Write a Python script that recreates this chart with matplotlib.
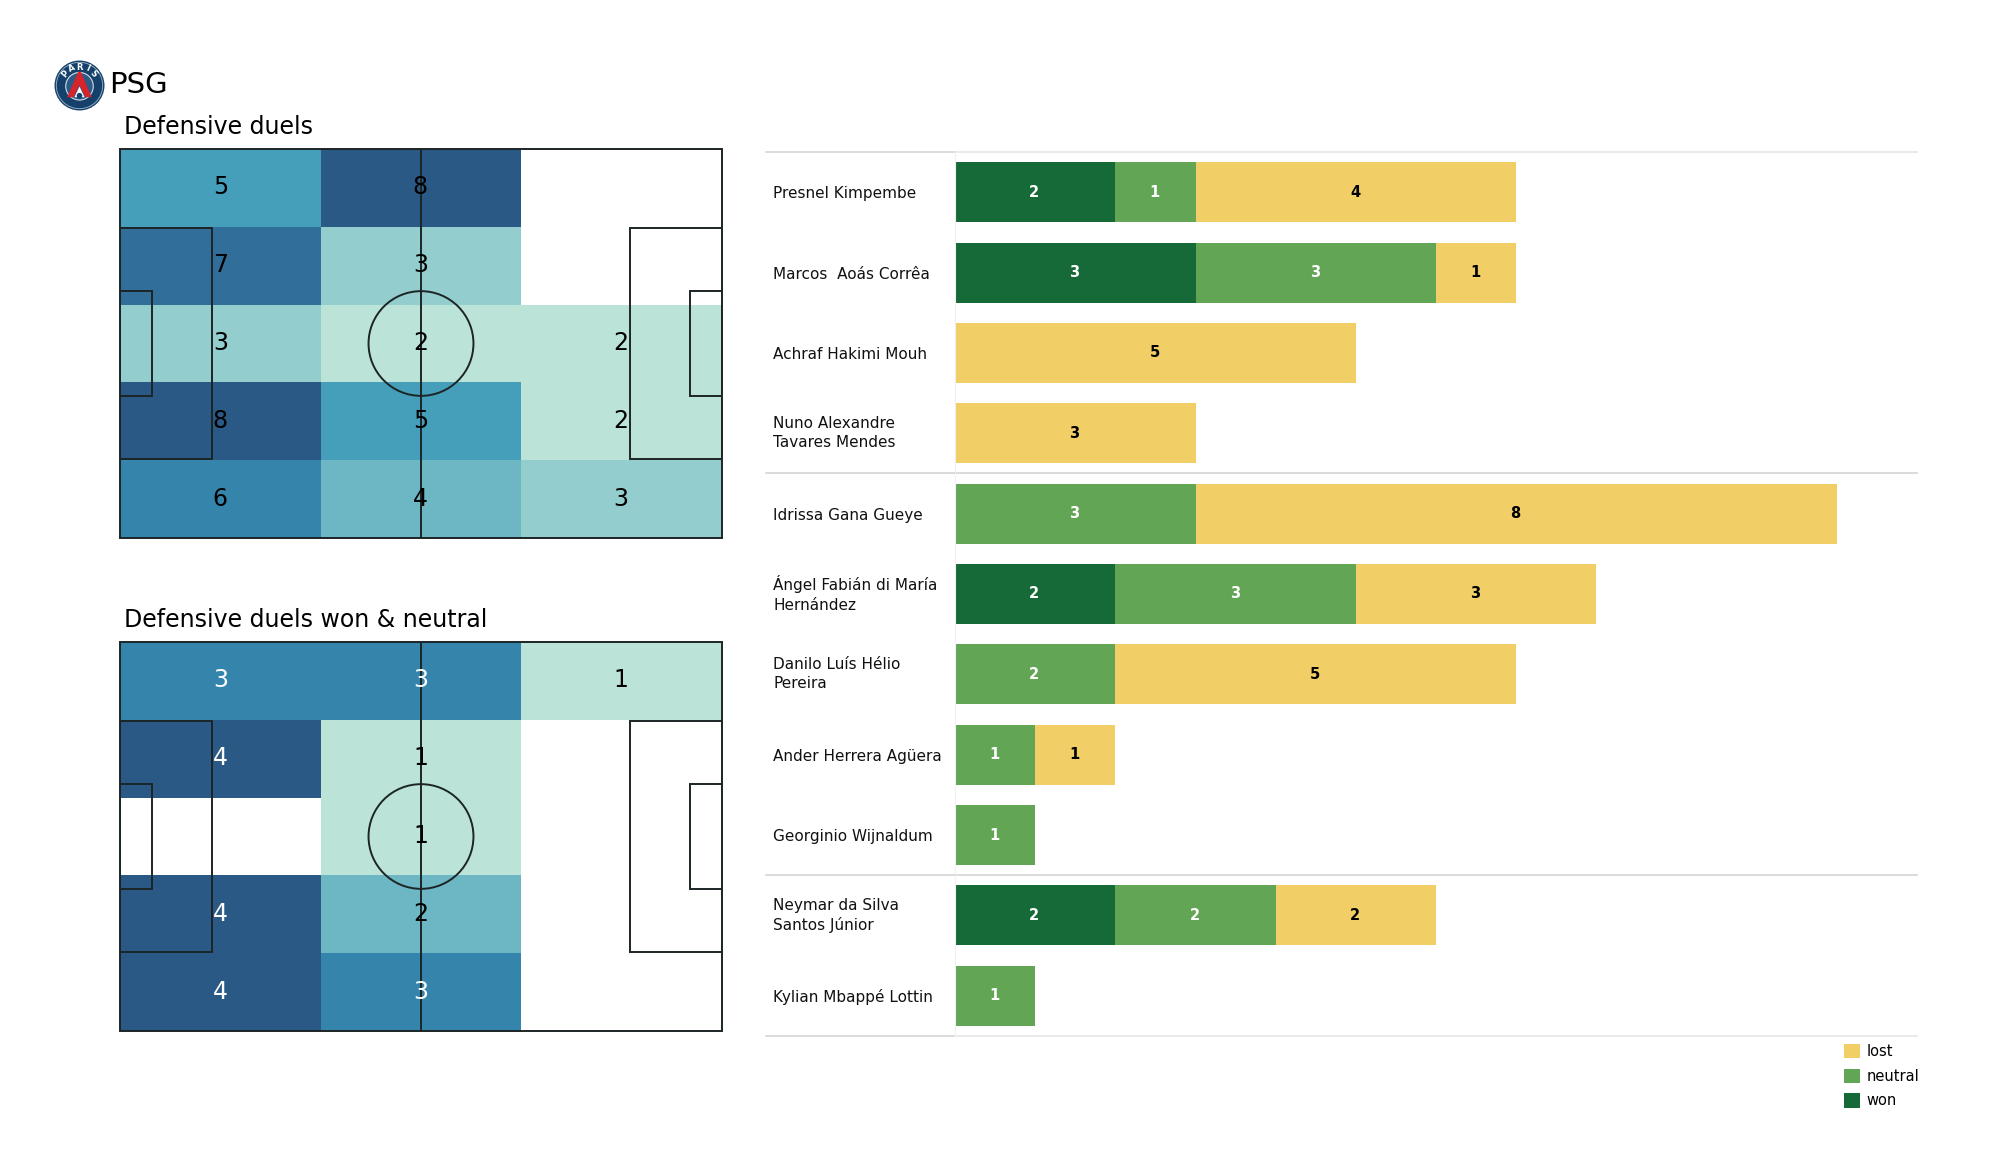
"""Defensive duels for PSG: two pitch heatmaps and a stacked bar per player."""

import numpy as np
import matplotlib
matplotlib.use('Agg')
import matplotlib.pyplot as plt
from matplotlib.colors import LinearSegmentedColormap, Normalize
from matplotlib.patches import Circle, Polygon, Rectangle

FIG_W, FIG_H = 2000, 1175

# heatmap counts, rows from top of the picture to the bottom
duels = [[5, 8, 0], [7, 3, 0], [3, 2, 2], [8, 5, 2], [6, 4, 3]]
duels_won_neutral = [[3, 3, 1], [4, 1, 0], [0, 1, 0], [4, 2, 0], [4, 3, 0]]

players = ['Presnel Kimpembe', 'Marcos  Aoás Corrêa', 'Achraf Hakimi Mouh',
           'Nuno Alexandre\nTavares Mendes', 'Idrissa Gana Gueye',
           'Ángel Fabián di María\nHernández', 'Danilo Luís Hélio\nPereira',
           'Ander Herrera Agüera', 'Georginio Wijnaldum',
           'Neymar da Silva\nSantos Júnior', 'Kylian Mbappé Lottin']
won = [2, 3, 0, 0, 0, 2, 0, 0, 0, 2, 0]
neutral = [1, 3, 0, 0, 3, 3, 2, 1, 1, 2, 1]
lost = [4, 1, 5, 3, 8, 3, 5, 1, 0, 2, 0]
group_breaks = [4, 9]

WON_COL = '#156a37'
NEUTRAL_COL = '#62a655'
LOST_COL = '#f2cf66'
LINE_COL = '#1c2526'

heat_cmap = LinearSegmentedColormap.from_list('heat', [
    (0, '#ffffff'), (0.25, '#bbe3d8'), (0.375, '#94cdce'), (0.5, '#6eb6c3'),
    (0.625, '#46a0ba'), (0.75, '#3585ab'), (0.875, '#316f9a'), (1, '#2b5985')])


def px_axes(fig, left, top, right, bottom, **kwargs):
    return fig.add_axes([left / FIG_W, 1 - bottom / FIG_H, (right - left) / FIG_W, (bottom - top) / FIG_H], **kwargs)


def draw_pitch(ax):
    lines = dict(fill=False, ec=LINE_COL, lw=1.4, zorder=3)
    ax.add_patch(Rectangle((0, 0), 105, 68, clip_on=False, **lines))
    ax.plot([52.5, 52.5], [0, 68], color=LINE_COL, lw=1.4, zorder=3)
    ax.add_patch(Circle((52.5, 34), 9.15, **lines))
    for x, depth in [(0, 16), (105 - 16, 16), (0, 5.5), (105 - 5.5, 5.5)]:
        half = 20.16 if depth > 10 else 9.16
        ax.add_patch(Rectangle((x, 34 - half), depth, half * 2, **lines))


def draw_heatmap(fig, counts, top, bottom, title, white_from=None):
    ax = px_axes(fig, 120, top, 722, bottom)
    counts = np.array(counts)
    ax.pcolormesh(np.linspace(0, 105, 4), np.linspace(0, 68, 6), counts,
                  cmap=heat_cmap, norm=Normalize(0, counts.max()), zorder=1)
    ax.set_xlim(0, 105)
    ax.set_ylim(68, 0)
    ax.axis('off')
    draw_pitch(ax)
    for row, values in enumerate(counts):
        for col, value in enumerate(values):
            if value == 0:
                continue
            colour = 'white' if white_from and value >= white_from else 'black'
            ax.text(17.5 + 34.9 * col, 6.7 + 13.6 * row, str(value), color=colour,
                    fontsize=17, ha='center', va='center', zorder=4)
    fig.text(124 / FIG_W, 1 - (top - 22) / FIG_H, title, fontsize=17, va='center')


def draw_logo(fig):
    ax = px_axes(fig, 54, 60, 105, 111)
    ax.set_xlim(-1, 1)
    ax.set_ylim(-1, 1)
    ax.axis('off')
    ax.add_patch(Circle((0, 0), 0.98, fc='#14406b', ec='none'))
    ax.add_patch(Circle((0, 0), 0.91, fill=False, ec='#9fb6c9', lw=0.6))
    ax.add_patch(Circle((0, -0.03), 0.54, fc='#2a5a86', ec='#d5dde5', lw=0.8))
    ax.add_patch(Polygon([(-0.48, -0.46), (-0.05, 0.54), (0.05, 0.54), (0.48, -0.46), (0.24, -0.46), (0, 0.02), (-0.24, -0.46)],
                         fc='#d8232a', ec='none'))
    ax.add_patch(Polygon([(-0.2, -0.46), (0, -0.04), (0.2, -0.46)], fc='white', ec='none'))
    ax.add_patch(Circle((0, -0.4), 0.11, fc='#14406b', ec='none'))
    for letter, angle in zip('PARIS', [140, 115, 90, 65, 40]):
        rad = np.deg2rad(angle)
        ax.text(0.72 * np.cos(rad), 0.72 * np.sin(rad), letter, color='white', fontsize=6,
                fontweight='bold', ha='center', va='center', rotation=angle - 90)


fig = plt.figure(figsize=(FIG_W / 100, FIG_H / 100), dpi=100)

draw_logo(fig)
fig.text(109 / FIG_W, 1 - 85 / FIG_H, 'PSG', fontsize=21, va='center')

draw_heatmap(fig, duels, 149, 538, 'Defensive duels')
draw_heatmap(fig, duels_won_neutral, 642, 1031, 'Defensive duels won & neutral', white_from=3)

# stacked bars
ax = px_axes(fig, 955, 152, 1917, 1036)
y = np.arange(len(players))
won = np.array(won)
neutral = np.array(neutral)
lost = np.array(lost)
lefts = [np.zeros(len(players)), won, won + neutral]
segments = [(won, WON_COL, 'white', 'won'), (neutral, NEUTRAL_COL, 'white', 'neutral'), (lost, LOST_COL, 'black', 'lost')]
handles = {}
for (values, colour, text_colour, name), left in zip(segments, lefts):
    handles[name] = ax.barh(y, values, left=left, height=0.747, color=colour, label=name)
    for i, value in enumerate(values):
        if value:
            ax.text(left[i] + value / 2 - 0.01, i, str(value), color=text_colour, fontsize=10.5,
                    fontweight='bold', ha='center', va='center')

ax.set_xlim(0, 12)
ax.set_ylim(len(players) - 0.5, -0.5)
ax.set_xticks([])
ax.set_yticks(y)
ax.set_yticklabels(players, fontsize=11, ha='left', color='#111111', linespacing=1.35)
for label in ax.get_yticklabels():
    if '\n' in label.get_text():
        label.set_va('center')
ax.tick_params(axis='y', length=0, pad=131)
for side in ['top', 'right', 'bottom']:
    ax.spines[side].set_visible(False)
ax.spines['left'].set_color('#f0f0f0')

# rules across names and bars, the part beside the names is drawn a touch darker
rule_left = -(955 - 766) / (1917 - 955)
for pos in [-0.5] + [b - 0.5 for b in group_breaks] + [len(players) - 0.5]:
    ax.plot([rule_left, 0], [pos, pos], transform=ax.get_yaxis_transform(), color='#d4d4d4', lw=1.2, clip_on=False)
    inner = '#d4d4d4' if pos not in (-0.5, len(players) - 0.5) else '#e6e6e6'
    ax.plot([0, 1], [pos, pos], transform=ax.get_yaxis_transform(), color=inner, lw=1.2, clip_on=False)

ax.legend(handles=[handles['lost'], handles['neutral'], handles['won']], frameon=False, fontsize=10.5,
          loc='upper left', bbox_to_anchor=((1844 - 955) / 962, 1 - (1044 - 152) / 884), borderaxespad=0, borderpad=0,
          handlelength=1.12, handleheight=1.12, handletextpad=0.42, labelspacing=0.66)

plt.savefig('out.png', dpi=100)
